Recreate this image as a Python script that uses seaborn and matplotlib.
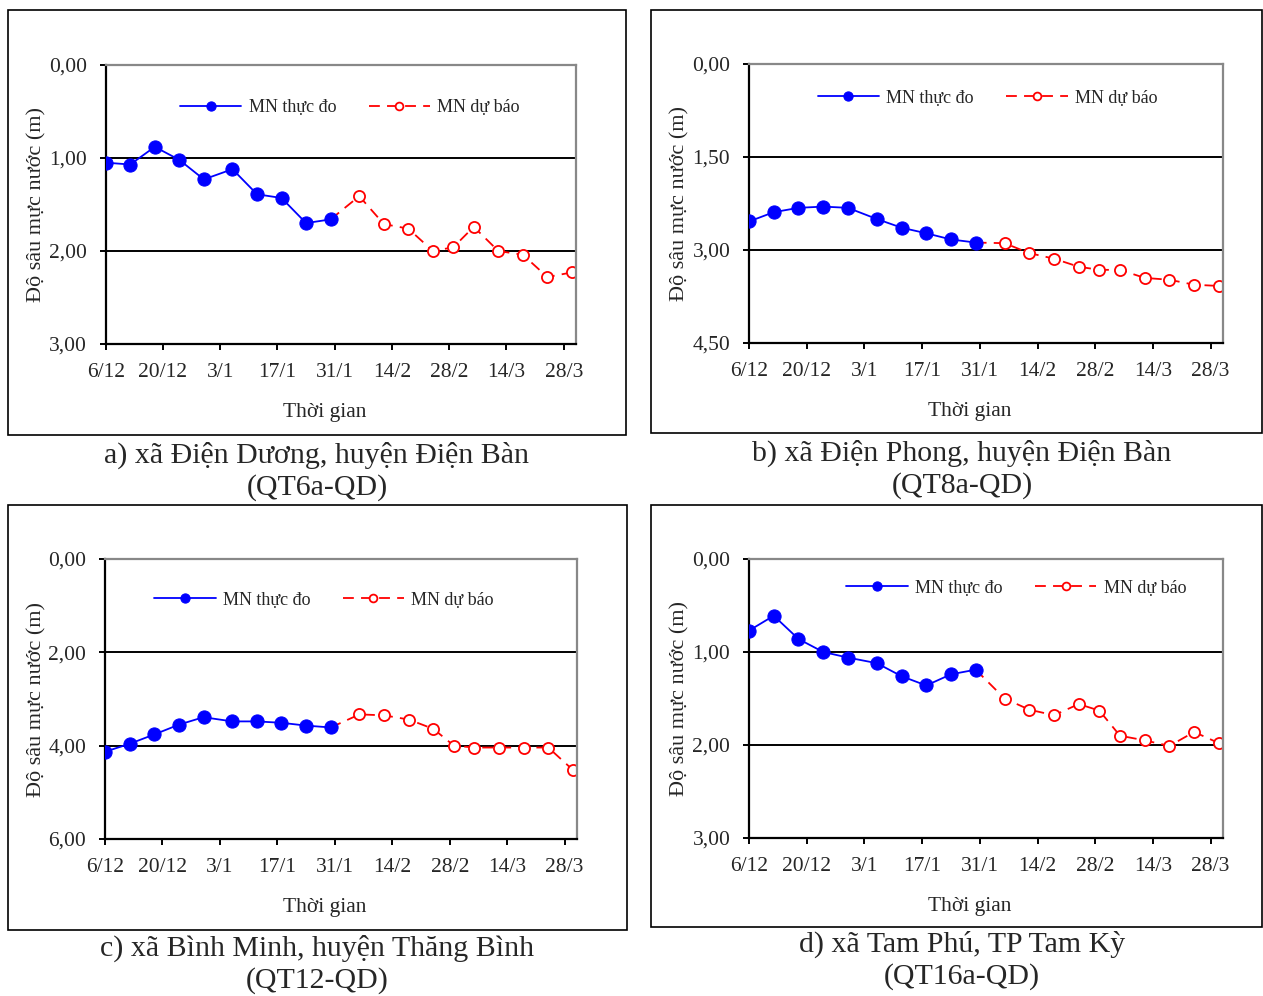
import matplotlib
matplotlib.use('Agg')
import matplotlib.pyplot as plt
import seaborn as sns
from matplotlib.patches import Rectangle
from matplotlib.ticker import FuncFormatter

sns.set_style('white')
plt.rcParams['font.family'] = ['Liberation Serif', 'DejaVu Serif']

# ngay tinh tu 6/12
obs_days = [0, 6, 12, 18, 24, 31, 37, 43, 49, 55]
fc_days = [62, 68, 74, 80, 85, 90, 96, 102, 108, 114]
tick_days = [0, 14, 28, 42, 56, 70, 84, 98, 112]
tick_labels = ['6/12', '20/12', '3/1', '17/1', '31/1', '14/2', '28/2', '14/3', '28/3']

a_obs = [1.05, 1.07, 0.88, 1.02, 1.23, 1.12, 1.39, 1.43, 1.70, 1.66]
a_fc = [1.41, 1.71, 1.76, 2.00, 1.96, 1.74, 2.00, 2.04, 2.28, 2.23]
b_obs = [2.54, 2.39, 2.32, 2.30, 2.32, 2.50, 2.64, 2.73, 2.83, 2.88]
b_fc = [2.89, 3.05, 3.14, 3.27, 3.32, 3.32, 3.45, 3.48, 3.56, 3.58]
c_obs = [4.13, 3.96, 3.76, 3.55, 3.39, 3.48, 3.48, 3.51, 3.57, 3.61]
c_fc = [3.33, 3.35, 3.44, 3.64, 4.00, 4.04, 4.04, 4.04, 4.04, 4.52]
d_obs = [0.77, 0.61, 0.86, 1.00, 1.06, 1.12, 1.26, 1.36, 1.24, 1.19]
d_fc = [1.50, 1.62, 1.68, 1.56, 1.63, 1.90, 1.95, 2.01, 1.86, 1.98]

a_yticks = [0, 1, 2, 3]
b_yticks = [0, 1.5, 3, 4.5]
c_yticks = [0, 2, 4, 6]
d_yticks = [0, 1, 2, 3]

captions = [
    ('a) xã Điện Dương, huyện Điện Bàn', '(QT6a-QD)'),
    ('b) xã Điện Phong, huyện Điện Bàn', '(QT8a-QD)'),
    ('c) xã Bình Minh, huyện Thăng Bình', '(QT12-QD)'),
    ('d) xã Tam Phú, TP Tam Kỳ', '(QT16a-QD)'),
]

W, H = 1263, 996
fig = plt.figure(figsize=(W / 100, H / 100), dpi=100)


def px_axes(l, r, t, b):
    return fig.add_axes([l / W, 1 - b / H, (r - l) / W, (b - t) / H])


# (axes box, frame box, caption center x, caption y, legend x, legend y)
panels = [
    (a_obs, a_fc, a_yticks, (105.7, 576, 65, 344), (8, 625.5, 10, 435), 317, 455, 0.519, 0.846),
    (b_obs, b_fc, b_yticks, (749, 1223, 64, 343), (651, 1262, 10, 433), 962, 453, 0.503, 0.878),
    (c_obs, c_fc, c_yticks, (105, 577, 559, 839), (8, 626.5, 505, 930), 317, 948, 0.464, 0.853),
    (d_obs, d_fc, d_yticks, (749, 1223, 559, 838), (651, 1262, 505, 927), 962, 944, 0.564, 0.896),
]

comma = FuncFormatter(lambda v, p: f'{v:.2f}'.replace('.', ','))

for i, (obs, fc, yt, box, frame, cx, cy, lx, ly) in enumerate(panels):
    # khung ngoai
    fl, fr, ft, fb = frame
    fig.patches.append(Rectangle((fl / W, 1 - fb / H), (fr - fl) / W, (fb - ft) / H,
                                 transform=fig.transFigure, fill=False,
                                 edgecolor='black', linewidth=1.2))
    ax = px_axes(*box)
    for v in yt[1:-1]:
        ax.axhline(v, color='black', linewidth=1.4, zorder=1)

    sns.lineplot(x=obs_days, y=obs, ax=ax, color='#0000ff', marker='o',
                 markersize=9.5, markeredgecolor='#0000ff', linewidth=1.3,
                 label='MN thực đo', zorder=3)
    sns.lineplot(x=[obs_days[-1]] + fc_days, y=[obs[-1]] + fc, ax=ax,
                 color='#ff0000', linestyle=(0, (6, 4)), marker='o',
                 markersize=8, markerfacecolor='white', markeredgecolor='#ff0000',
                 markeredgewidth=1.3, linewidth=1.3,
                 markevery=list(range(1, len(fc) + 1)),
                 label='MN dự báo', zorder=2)

    ax.set_xlim(0, 115)
    ax.set_ylim(yt[-1], yt[0])
    ax.set_xticks(tick_days)
    ax.set_xticklabels(tick_labels)
    ax.set_yticks(yt)
    ax.yaxis.set_major_formatter(comma)
    ax.tick_params(axis='both', direction='out', length=4.5, width=1.4,
                   color='black', labelsize=15.5, left=True, bottom=True)
    ax.tick_params(axis='x', pad=9.5)
    ax.tick_params(axis='y', pad=9)
    ax.spines['left'].set_color('black')
    ax.spines['bottom'].set_color('black')
    ax.spines['left'].set_linewidth(1.6)
    ax.spines['bottom'].set_linewidth(1.6)
    ax.spines['top'].set_color('#888888')
    ax.spines['right'].set_color('#888888')
    ax.spines['top'].set_linewidth(1.6)
    ax.spines['right'].set_linewidth(1.6)
    ax.set_xlabel('Thời gian', fontsize=15.5)
    ax.set_ylabel('Độ sâu mực nước (m)', fontsize=16)
    ax.xaxis.set_label_coords(0.465, -0.21)
    ax.yaxis.set_label_coords(-0.125, 0.5)
    ax.legend(loc='center', bbox_to_anchor=(lx, ly), ncol=2, frameon=False,
              fontsize=13, handlelength=3.4, handletextpad=0.4, columnspacing=1.8,
              markerscale=0.7)

    line1, line2 = captions[i]
    fig.text(cx / W, 1 - cy / H, line1, ha='center', va='center', fontsize=21.5)
    fig.text(cx / W, 1 - (cy + 33) / H, line2, ha='center', va='center', fontsize=21.5)

fig.savefig('out.png', dpi=100)
